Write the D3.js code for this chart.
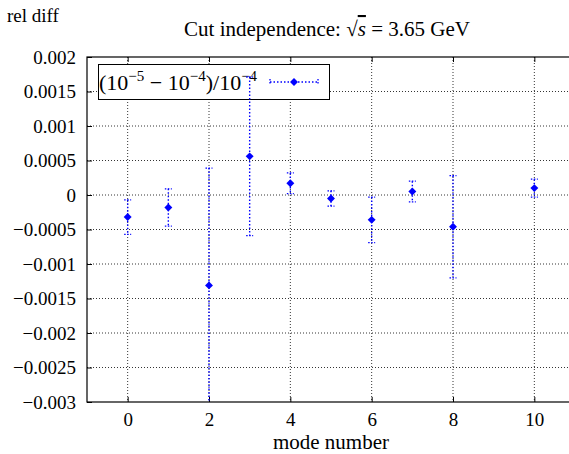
<!DOCTYPE html>
<html>
<head>
<meta charset="utf-8">
<script src="https://d3js.org/d3.v7.min.js"></script>
<style>
  body { margin: 0; background: #fff; }
  svg { display: block; }
  text { font-family: "Liberation Serif", "DejaVu Serif", serif; fill: #000; }
</style>
</head>
<body>
<div id="my_dataviz"></div>
<script>
// data
var modes = [0, 1, 2, 3, 4, 5, 6, 7, 8, 10];
var relDiff = [-0.00032, -0.00018, -0.00131, 0.00056, 0.00017, -0.00005, -0.00036, 0.00005, -0.00046, 0.0001];
var errors = [0.00025, 0.00027, 0.0017, 0.00115, 0.00015, 0.00011, 0.00033, 0.00015, 0.00074, 0.00013];
var yTicks = [0.002, 0.0015, 0.001, 0.0005, 0, -0.0005, -0.001, -0.0015, -0.002, -0.0025, -0.003];
var xTicks = [0, 2, 4, 6, 8, 10];

var W = 569, H = 454;
var margin = {top: 57, left: 87, bottom: 52, right: -6};
var blue = "#0000ff";

var svg = d3.select("#my_dataviz")
    .append("svg")
    .attr("width", W)
    .attr("height", H);

var x = d3.scaleLinear().domain([-1, 11]).range([margin.left, W - margin.right]);
var y = d3.scaleLinear().domain([-0.003, 0.002]).range([H - margin.bottom, margin.top]);

var fmt = function (v) {
    if (v === 0) return "0";
    var s = Math.abs(v).toString();
    return (v < 0 ? "\u2212" : "") + s;
};

// clip for the plotting area
svg.append("clipPath").attr("id", "clip")
    .append("rect")
    .attr("x", x(-1)).attr("y", y(0.002))
    .attr("width", x(11) - x(-1)).attr("height", y(-0.003) - y(0.002));

// grid
var grid = svg.append("g").attr("stroke", "#000").attr("stroke-width", 0.8)
    .attr("stroke-dasharray", "1,2");
grid.selectAll("line.gx").data(xTicks).enter().append("line")
    .attr("x1", d => x(d)).attr("x2", d => x(d))
    .attr("y1", y(0.002)).attr("y2", y(-0.003));
grid.selectAll("line.gy").data(yTicks.slice(1, -1)).enter().append("line")
    .attr("x1", x(-1)).attr("x2", x(11))
    .attr("y1", d => y(d)).attr("y2", d => y(d));

// axes with inward ticks
svg.append("g")
    .attr("transform", "translate(" + x(-1) + ",0)")
    .call(d3.axisLeft(y).tickValues(yTicks).tickFormat(fmt).tickSizeInner(-5).tickSizeOuter(0).tickPadding(11))
    .call(g => g.select(".domain").remove())
    .selectAll("text").style("font-size", "19px").style("font-family", "Liberation Serif");

svg.append("g")
    .attr("transform", "translate(0," + y(-0.003) + ")")
    .call(d3.axisBottom(x).tickValues(xTicks).tickFormat(d => d).tickSizeInner(-5).tickSizeOuter(0).tickPadding(11))
    .call(g => g.select(".domain").remove())
    .selectAll("text").style("font-size", "19px").style("font-family", "Liberation Serif");

svg.append("g")
    .attr("transform", "translate(0," + y(0.002) + ")")
    .call(d3.axisTop(x).tickValues(xTicks).tickFormat("").tickSizeInner(-5).tickSizeOuter(0))
    .call(g => g.select(".domain").remove());

// frame
svg.append("rect")
    .attr("x", x(-1)).attr("y", y(0.002))
    .attr("width", x(11) - x(-1)).attr("height", y(-0.003) - y(0.002))
    .attr("fill", "none").attr("stroke", "#000").attr("stroke-width", 1.2);

// legend box
var leg = svg.append("g");
leg.append("rect")
    .attr("x", 98.5).attr("y", 64.5).attr("width", 231).attr("height", 35)
    .attr("fill", "#fff").attr("stroke", "#000").attr("stroke-width", 1);
var lt = leg.append("text").attr("x", 99).attr("y", 90).style("font-size", "22px")
    .style("font-family", "Liberation Serif");
lt.append("tspan").text("(10");
lt.append("tspan").attr("dy", -9).style("font-size", "15px").text("\u22125");
lt.append("tspan").attr("dy", 9).text(" \u2212 10");
lt.append("tspan").attr("dy", -9).style("font-size", "15px").text("\u22124");
lt.append("tspan").attr("dy", 9).text(")/10");
lt.append("tspan").attr("dy", -9).style("font-size", "15px").text("\u22124");

// legend sample
leg.append("line").attr("x1", 270).attr("x2", 318).attr("y1", 82).attr("y2", 82)
    .attr("stroke", blue).attr("stroke-width", 1.3).attr("stroke-dasharray", "1.5,2");
leg.selectAll("line.cap").data([270, 318]).enter().append("line")
    .attr("x1", d => d).attr("x2", d => d).attr("y1", 79).attr("y2", 85)
    .attr("stroke", blue).attr("stroke-width", 1.3).attr("stroke-dasharray", "1.5,1.5");
leg.append("path").attr("d", d3.symbol().type(d3.symbolDiamond2).size(40)())
    .attr("transform", "translate(294,82)").attr("fill", blue);

// error bars and markers
var marks = svg.append("g").attr("clip-path", "url(#clip)");
var pts = modes.map((m, i) => ({m: m, v: relDiff[i], e: errors[i]}));

marks.selectAll("line.err").data(pts).enter().append("line")
    .attr("x1", d => x(d.m)).attr("x2", d => x(d.m))
    .attr("y1", d => y(d.v + d.e)).attr("y2", d => y(d.v - d.e))
    .attr("stroke", blue).attr("stroke-width", 1.4).attr("stroke-dasharray", "1.5,2");
marks.selectAll("line.capt").data(pts).enter().append("line")
    .attr("x1", d => x(d.m) - 3.5).attr("x2", d => x(d.m) + 3.5)
    .attr("y1", d => y(d.v + d.e)).attr("y2", d => y(d.v + d.e))
    .attr("stroke", blue).attr("stroke-width", 1.3).attr("stroke-dasharray", "1.5,1.5");
marks.selectAll("line.capb").data(pts).enter().append("line")
    .attr("x1", d => x(d.m) - 3.5).attr("x2", d => x(d.m) + 3.5)
    .attr("y1", d => y(d.v - d.e)).attr("y2", d => y(d.v - d.e))
    .attr("stroke", blue).attr("stroke-width", 1.3).attr("stroke-dasharray", "1.5,1.5");
marks.selectAll("path.pt").data(pts).enter().append("path")
    .attr("d", d3.symbol().type(d3.symbolDiamond2).size(40)())
    .attr("transform", d => "translate(" + x(d.m) + "," + y(d.v) + ")")
    .attr("fill", blue);

// titles
svg.append("text").attr("x", 7).attr("y", 22).style("font-size", "19px").text("rel diff");
var title = svg.append("text").attr("x", 327).attr("y", 36).attr("text-anchor", "middle")
    .style("font-size", "21px");
title.append("tspan").text("Cut independence: \u221A");
title.append("tspan").style("font-style", "italic").style("text-decoration", "overline").text("s");
title.append("tspan").text(" = 3.65 GeV");

svg.append("text").attr("x", 331).attr("y", 449).attr("text-anchor", "middle")
    .style("font-size", "21px").text("mode number");
</script>
</body>
</html>
